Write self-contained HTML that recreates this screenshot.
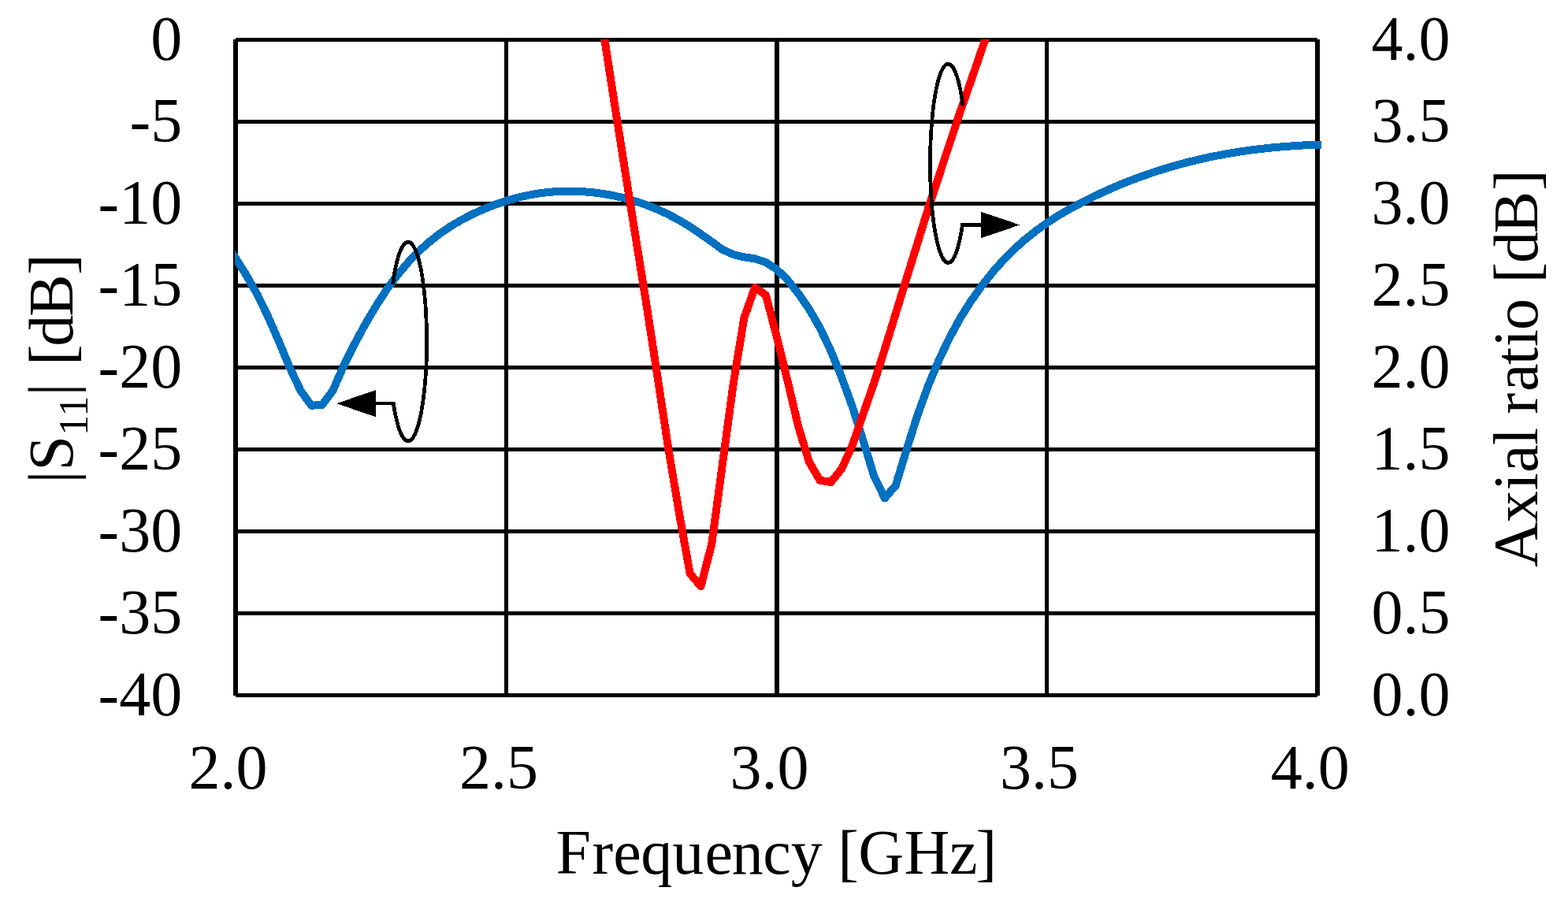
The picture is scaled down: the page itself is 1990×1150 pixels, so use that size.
<!DOCTYPE html>
<html lang="en">
<head>
<meta charset="utf-8">
<title>|S11| and axial ratio versus frequency</title>
<style>
html,body{margin:0;padding:0;background:#fff;}
body{width:1990px;height:1150px;overflow:hidden;}
svg{display:block;}
text{font-family:"Liberation Serif","DejaVu Serif",serif;fill:#000;}
</style>
</head>
<body>
<svg width="1990" height="1150" viewBox="0 0 1990 1150">
<rect x="0" y="0" width="1990" height="1150" fill="#ffffff"/>
<g fill="#000" shape-rendering="crispEdges">
<rect x="299" y="48" width="1373" height="5"/>
<rect x="299" y="152" width="1373" height="5"/>
<rect x="299" y="256" width="1373" height="5"/>
<rect x="299" y="360" width="1373" height="5"/>
<rect x="299" y="464" width="1373" height="5"/>
<rect x="299" y="568" width="1373" height="5"/>
<rect x="299" y="672" width="1373" height="5"/>
<rect x="299" y="776" width="1373" height="5"/>
<rect x="299" y="880" width="1373" height="5"/>
<rect x="296" y="50" width="6" height="833"/>
<rect x="640" y="50" width="5" height="833"/>
<rect x="983" y="50" width="6" height="833"/>
<rect x="1326" y="50" width="5" height="833"/>
<rect x="1669" y="50" width="6" height="833"/>
</g>
<defs><clipPath id="plotclip"><rect x="298" y="50" width="1379" height="850"/></clipPath></defs>
<g clip-path="url(#plotclip)" shape-rendering="crispEdges">
<polyline points="285.3,308.4 299.0,327.6 312.7,349.4 326.5,373.6 340.2,402.0 353.9,433.3 367.7,466.5 381.4,495.6 395.1,514.7 408.9,514.0 422.6,495.4 436.3,463.9 450.1,436.5 463.8,411.1 477.5,387.9 491.2,366.9 505.0,348.4 518.7,332.2 532.4,318.1 546.2,305.9 559.9,295.3 573.6,286.1 587.4,278.2 601.1,271.2 614.8,265.0 628.6,259.6 642.3,255.0 656.0,251.1 669.8,247.9 683.5,245.5 697.2,243.8 711.0,242.9 724.7,242.6 738.4,243.1 752.2,244.2 765.9,246.0 779.6,248.5 793.4,251.7 807.1,255.6 820.8,260.3 834.5,265.8 848.3,272.2 862.0,279.5 875.7,287.8 889.5,297.1 903.2,306.8 916.9,316.8 930.7,323.0 944.4,326.4 958.1,328.3 971.9,333.0 985.6,341.8 999.3,355.0 1013.1,372.3 1026.8,392.2 1040.5,416.0 1054.3,445.0 1068.0,478.5 1081.7,516.0 1095.5,559.4 1109.2,604.0 1122.9,632.3 1136.7,616.3 1150.4,571.4 1164.1,528.0 1177.8,490.1 1191.6,457.0 1205.3,428.3 1219.0,403.2 1232.8,381.4 1246.5,362.1 1260.2,344.9 1274.0,329.5 1287.7,315.8 1301.4,303.6 1315.2,292.6 1328.9,282.9 1342.6,274.0 1356.4,266.0 1370.1,258.6 1383.8,251.6 1397.6,245.0 1411.3,238.8 1425.0,233.0 1438.8,227.6 1452.5,222.6 1466.2,217.9 1480.0,213.6 1493.7,209.6 1507.4,205.9 1521.1,202.6 1534.9,199.5 1548.6,196.8 1562.3,194.3 1576.1,192.1 1589.8,190.2 1603.5,188.6 1617.3,187.1 1631.0,186.0 1644.7,185.0 1658.5,184.2 1672.2,183.7" fill="none" stroke="#0070c0" stroke-width="10" stroke-linejoin="round" stroke-linecap="square"/>
<polyline points="752.2,-48.0 765.9,40.6 779.6,129.7 793.4,217.5 807.1,303.5 820.8,389.1 834.5,478.3 848.3,569.8 862.0,651.6 875.7,728.2 889.5,744.1 903.2,690.8 916.9,589.3 930.7,487.0 944.4,403.5 958.1,364.9 971.9,374.5 985.6,426.6 999.3,482.4 1013.1,541.0 1026.8,586.0 1040.5,609.7 1054.3,612.0 1068.0,595.5 1081.7,565.5 1095.5,525.5 1109.2,486.3 1122.9,443.2 1136.7,398.4 1150.4,353.7 1164.1,309.7 1177.8,265.4 1191.6,223.5 1205.3,182.0 1219.0,140.8 1232.8,101.2 1246.5,61.5 1260.2,21.7" fill="none" stroke="#ff0000" stroke-width="10" stroke-linejoin="round" stroke-linecap="butt"/>
</g>
<g fill="none" stroke="#000" stroke-width="4.7" stroke-linejoin="miter" stroke-miterlimit="3" stroke-linecap="butt" shape-rendering="crispEdges">
<path d="M498.5,361.0 L499.3,355.4 L500.1,350.0 L501.0,344.8 L502.0,340.0 L503.0,335.4 L504.0,331.1 L505.1,327.2 L506.2,323.5 L507.4,320.3 L508.6,317.3 L509.8,314.7 L511.1,312.5 L512.3,310.7 L513.6,309.2 L514.9,308.2 L516.2,307.5 L517.5,307.2 L518.9,307.3 L520.2,307.7 L521.5,308.6 L522.8,309.9 L524.1,311.5 L525.3,313.5 L526.6,315.9 L527.8,318.6 L528.9,321.7 L530.1,325.2 L531.2,328.9 L532.3,333.0 L533.3,337.5 L534.3,342.2 L535.2,347.1 L536.1,352.4 L536.9,357.9 L537.6,363.7 L538.3,369.6 L539.0,375.8 L539.5,382.1 L540.1,388.6 L540.5,395.2 L540.8,401.9 L541.1,408.8 L541.4,415.7 L541.5,422.7 L541.6,429.7 L541.6,436.7 L541.5,443.7 L541.4,450.7 L541.2,457.6 L540.9,464.5 L540.5,471.2 L540.1,477.9 L539.6,484.4 L539.0,490.7 L538.4,496.9 L537.7,502.9 L537.0,508.6 L536.1,514.1 L535.3,519.4 L534.4,524.4 L533.4,529.2 L532.4,533.6 L531.3,537.7 L530.2,541.5 L529.0,545.0 L527.9,548.1 L526.7,550.9 L525.4,553.3 L524.2,555.4 L522.9,557.0 L521.6,558.3 L520.3,559.2 L519.0,559.7 L517.7,559.8 L516.3,559.6 L515.0,558.9 L513.7,557.9 L512.4,556.4 L511.2,554.6 L509.9,552.5 L508.7,549.9 L507.5,547.0 L506.3,543.7 L505.2,540.1 L504.1,536.2 L503.1,532.0 L502.0,527.4 L501.1,522.6 L500.2,517.5 L499.3,512.1 L477,512.1"/>
<path d="M1222.1,134.3 L1221.3,128.7 L1220.5,123.3 L1219.6,118.2 L1218.7,113.4 L1217.7,108.9 L1216.7,104.7 L1215.7,100.7 L1214.6,97.2 L1213.4,93.9 L1212.3,91.0 L1211.1,88.5 L1209.9,86.3 L1208.7,84.5 L1207.4,83.1 L1206.2,82.1 L1204.9,81.4 L1203.6,81.2 L1202.3,81.3 L1201.1,81.8 L1199.8,82.7 L1198.6,84.0 L1197.3,85.7 L1196.1,87.7 L1194.9,90.1 L1193.8,92.9 L1192.6,96.0 L1191.5,99.5 L1190.4,103.3 L1189.4,107.4 L1188.4,111.9 L1187.5,116.6 L1186.6,121.6 L1185.8,126.9 L1185.0,132.4 L1184.3,138.1 L1183.6,144.1 L1183.0,150.3 L1182.4,156.6 L1182.0,163.1 L1181.5,169.7 L1181.2,176.4 L1180.9,183.3 L1180.7,190.2 L1180.6,197.2 L1180.5,204.2 L1180.5,211.2 L1180.6,218.2 L1180.7,225.1 L1180.9,232.0 L1181.2,238.9 L1181.6,245.6 L1182.0,252.2 L1182.5,258.7 L1183.0,265.0 L1183.6,271.2 L1184.3,277.1 L1185.0,282.8 L1185.8,288.3 L1186.7,293.6 L1187.6,298.6 L1188.5,303.3 L1189.5,307.7 L1190.5,311.8 L1191.6,315.5 L1192.7,319.0 L1193.9,322.1 L1195.0,324.8 L1196.2,327.2 L1197.4,329.2 L1198.7,330.8 L1199.9,332.1 L1201.2,333.0 L1202.5,333.4 L1203.7,333.5 L1205.0,333.2 L1206.3,332.6 L1207.5,331.5 L1208.8,330.0 L1210.0,328.2 L1211.2,326.0 L1212.4,323.4 L1213.5,320.5 L1214.7,317.2 L1215.8,313.6 L1216.8,309.7 L1217.8,305.4 L1218.8,300.9 L1219.7,296.0 L1220.6,290.9 L1221.4,285.5 L1246,285.5"/>
</g>
<polygon points="427,512.2 477,495 477,529.2" fill="#000" shape-rendering="crispEdges"/>
<polygon points="1294.4,285.5 1245.2,268.8 1245.2,302.1" fill="#000" shape-rendering="crispEdges"/>
<g font-size="80px">
<text x="231.2" y="75.6" text-anchor="end">0</text>
<text x="231.2" y="179.6" text-anchor="end">-5</text>
<text x="231.2" y="283.6" text-anchor="end">-10</text>
<text x="231.2" y="387.6" text-anchor="end">-15</text>
<text x="231.2" y="491.6" text-anchor="end">-20</text>
<text x="231.2" y="595.6" text-anchor="end">-25</text>
<text x="231.2" y="699.6" text-anchor="end">-30</text>
<text x="231.2" y="803.6" text-anchor="end">-35</text>
<text x="231.2" y="907.6" text-anchor="end">-40</text>
<text x="1740.5" y="75.6" text-anchor="start">4.0</text>
<text x="1740.5" y="179.6" text-anchor="start">3.5</text>
<text x="1740.5" y="283.6" text-anchor="start">3.0</text>
<text x="1740.5" y="387.6" text-anchor="start">2.5</text>
<text x="1740.5" y="491.6" text-anchor="start">2.0</text>
<text x="1740.5" y="595.6" text-anchor="start">1.5</text>
<text x="1740.5" y="699.6" text-anchor="start">1.0</text>
<text x="1740.5" y="803.6" text-anchor="start">0.5</text>
<text x="1740.5" y="907.6" text-anchor="start">0.0</text>
<text x="289.5" y="1001.0" text-anchor="middle">2.0</text>
<text x="633.0" y="1001.0" text-anchor="middle">2.5</text>
<text x="976.6" y="1001.0" text-anchor="middle">3.0</text>
<text x="1319.0" y="1001.0" text-anchor="middle">3.5</text>
<text x="1662.7" y="1001.0" text-anchor="middle">4.0</text>
<text x="705.45" y="1109.0" text-anchor="start" dx="0 1.55 0 -0.3 0 1.2 -1.3 -0.45 -0.15 0 -0.35 -0.75 0.6 -0.4 -1.9">Frequency [GHz]</text>
<text transform="translate(92.0,613.5) rotate(-90)" text-anchor="start">|S<tspan font-size="52.5px" dy="19">11</tspan><tspan dy="-19">|</tspan><tspan dx="2.3"> [</tspan><tspan dx="-2.3">d</tspan><tspan dx="-2.0">B</tspan><tspan dx="-0.5">]</tspan></text>
<text transform="translate(1951.2,719.90) rotate(-90)" text-anchor="start" dx="0 -0.9 0.5 0.3 -0.5 0 -2.7 1.7 -1.5 0.5 -1.0 0 -0.3 -1.2 -2.4 0.9">Axial ratio [dB]</text>
</g>
</svg>
</body>
</html>
